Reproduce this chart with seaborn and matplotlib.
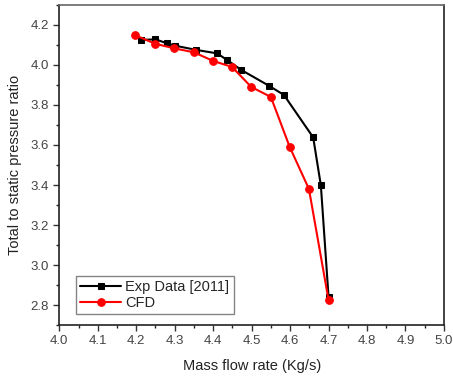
import matplotlib
matplotlib.use("Agg")
import matplotlib.pyplot as plt
import seaborn as sns
import pandas as pd
from matplotlib.ticker import MultipleLocator

exp_x = [4.213, 4.25, 4.28, 4.302, 4.356, 4.41, 4.436, 4.473, 4.545, 4.584, 4.66, 4.68, 4.70]
exp_y = [4.125, 4.128, 4.108, 4.096, 4.075, 4.058, 4.025, 3.975, 3.896, 3.85, 3.638, 3.398, 2.84]
cfd_x = [4.198, 4.249, 4.299, 4.35, 4.40, 4.449, 4.499, 4.55, 4.599, 4.649, 4.70]
cfd_y = [4.148, 4.106, 4.083, 4.063, 4.02, 3.99, 3.89, 3.84, 3.59, 3.38, 2.825]

sns.set_style("ticks")
plt.rcParams['font.family'] = ['Liberation Sans', 'DejaVu Sans']

fig = plt.figure(figsize=(4.53, 3.78), dpi=100)
ax = fig.add_axes([0.131, 0.140, 0.849, 0.847])

df_exp = pd.DataFrame({"x": exp_x, "y": exp_y})
df_cfd = pd.DataFrame({"x": cfd_x, "y": cfd_y})
sns.lineplot(data=df_exp, x="x", y="y", ax=ax, color="black", marker="s", markersize=4.5,
             markeredgecolor="black", linewidth=1.5, label="Exp Data [2011]", sort=False)
sns.lineplot(data=df_cfd, x="x", y="y", ax=ax, color="#ff0000", marker="o", markersize=5.5,
             markeredgecolor="#ff0000", linewidth=1.5, label="CFD", sort=False)

ax.set_xlim(4.0, 5.0)
ax.set_ylim(2.7, 4.3)
ax.xaxis.set_major_locator(MultipleLocator(0.1))
ax.xaxis.set_minor_locator(MultipleLocator(0.05))
ax.yaxis.set_major_locator(MultipleLocator(0.2))
ax.yaxis.set_minor_locator(MultipleLocator(0.1))
ax.set_xticklabels([f"{v:.1f}" for v in ax.get_xticks()])
ax.set_yticklabels([f"{v:.1f}" for v in ax.get_yticks()])
ax.tick_params(axis="both", which="major", direction="out", length=4, width=1,
               labelsize=9.5, colors="#333333", labelcolor="#444444")
ax.tick_params(axis="both", which="minor", direction="out", length=2.5, width=1)
for s in ax.spines.values():
    s.set_color("#222222")
    s.set_linewidth(1.2)
ax.spines["top"].set_color("#666666")

ax.set_xlabel("Mass flow rate (Kg/s)", fontsize=10.5, color="#222222", labelpad=8)
ax.set_ylabel("Total to static pressure ratio", fontsize=10.5, color="#222222", labelpad=6)

leg = ax.legend(loc="lower left", bbox_to_anchor=(0.035, 0.025), fontsize=10.5, frameon=True,
                fancybox=False, edgecolor="#666666", handlelength=2.8, borderpad=0.3,
                labelspacing=0.1, handletextpad=0.3, borderaxespad=0.2)
leg.get_frame().set_linewidth(1.0)

fig.savefig("out.png", dpi=100)
